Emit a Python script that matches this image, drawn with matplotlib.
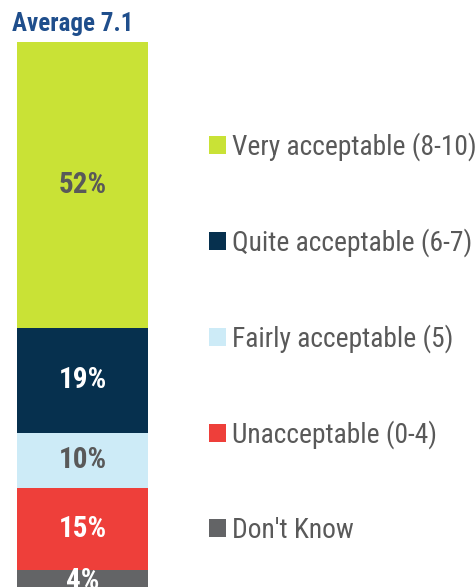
import matplotlib
matplotlib.use('Agg')
import matplotlib.pyplot as plt

categories = ["Don't Know", 'Unacceptable (0-4)', 'Fairly acceptable (5)',
              'Quite acceptable (6-7)', 'Very acceptable (8-10)']
values = [4, 15, 10, 19, 52]
colors = ['#636466', '#EE3F3A', '#CDEBF7', '#06304E', '#C9E236']
label_colors = ['white', 'white', '#595959', 'white', '#595959']
title = 'Average 7.1'

plt.rcParams['font.family'] = ['Roboto Condensed', 'DejaVu Sans']

fig = plt.figure(figsize=(4.76, 5.87), dpi=100)
ax = fig.add_axes([17 / 476, -5 / 587, 131 / 476, 550 / 587])

bottom = 0
handles = []
for cat, val, col, lc in zip(categories, values, colors, label_colors):
    b = ax.bar(0, val, bottom=bottom, width=1.0, color=col, label=cat)
    handles.append(b)
    ax.text(0, bottom + val / 2, f'{val}%', ha='center', va='center',
            fontsize=21, fontweight='bold', color=lc)
    bottom += val

ax.set_xlim(-0.5, 0.5)
ax.set_ylim(0, 100)
ax.axis('off')

fig.text(12 / 476, 1 - 24 / 587, title, ha='left', va='center',
         fontsize=18, fontweight='bold', color='#1F4E8C')

fig.legend(handles[::-1], categories[::-1], loc='center left',
           bbox_to_anchor=(209 / 476, 1 - 338 / 587), frameon=False,
           fontsize=19.8, labelcolor='#595959', handlelength=0.62,
           handleheight=0.62, handletextpad=0.2, labelspacing=2.45,
           borderpad=0, borderaxespad=0)

fig.savefig('out.png', dpi=100)
